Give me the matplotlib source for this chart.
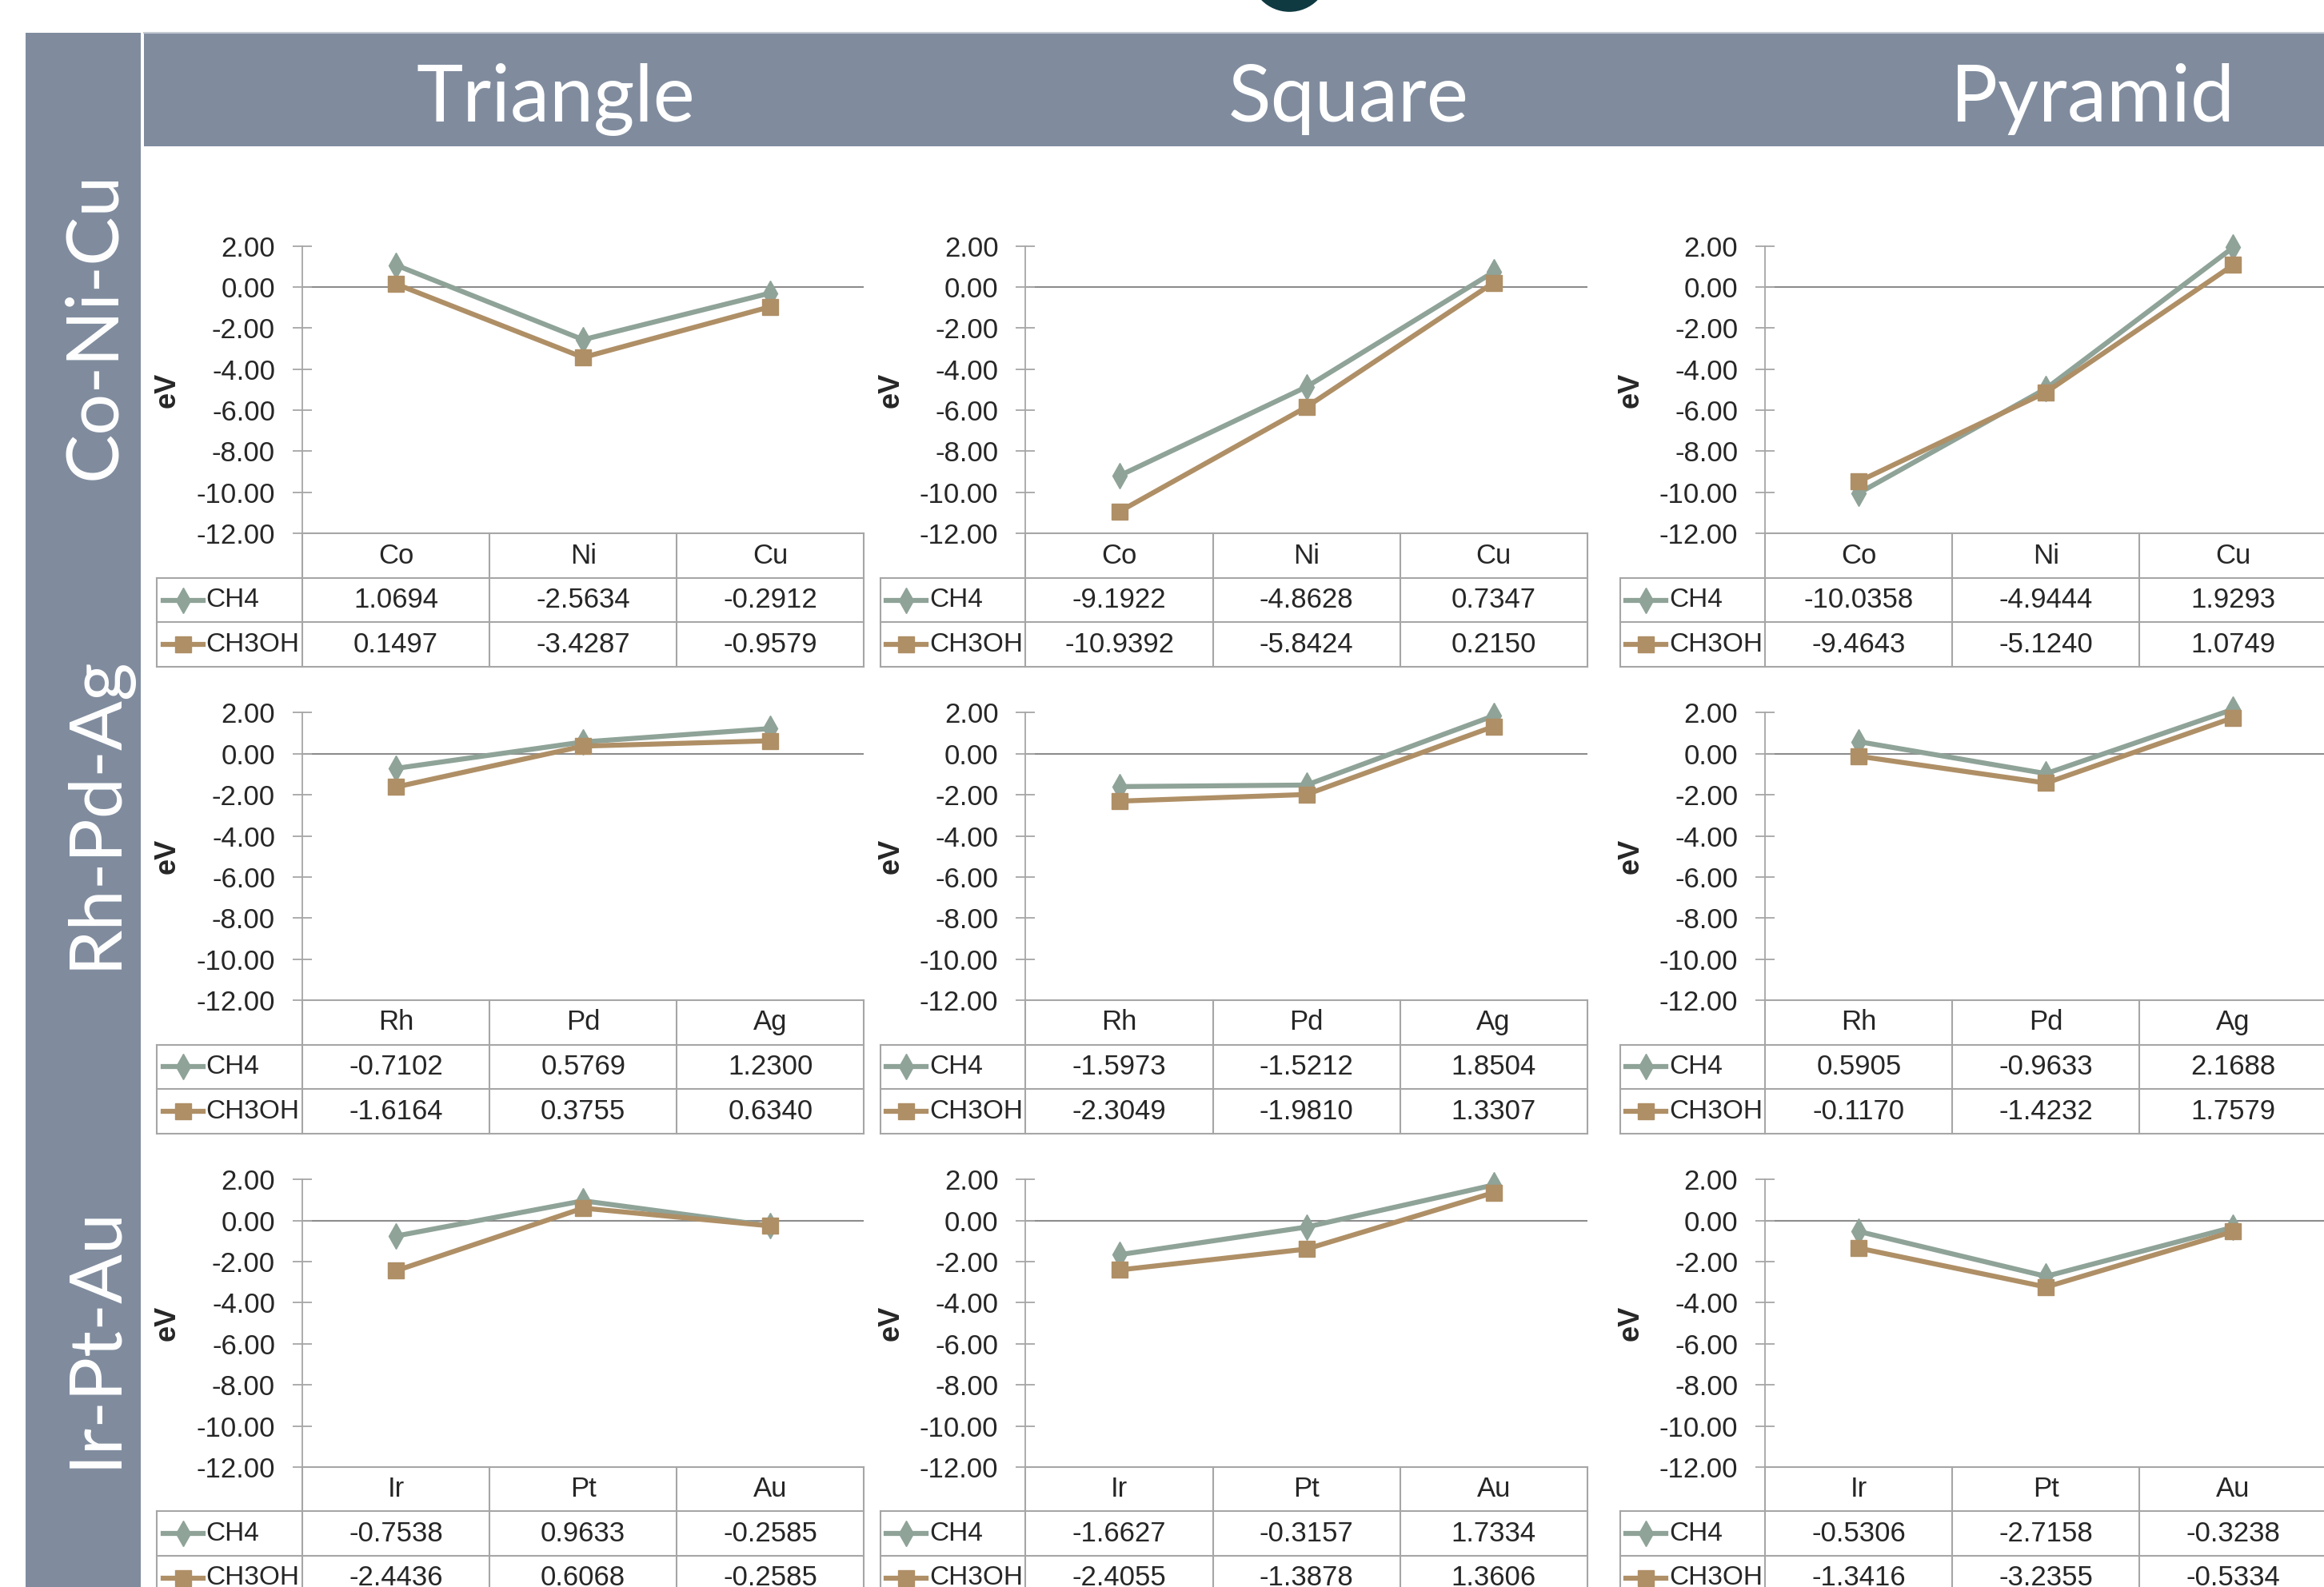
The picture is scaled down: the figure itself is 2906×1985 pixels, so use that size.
import matplotlib
matplotlib.use("Agg")
import matplotlib.pyplot as plt
from matplotlib.patches import Rectangle, Ellipse

# ---------------- data ----------------
shapes = ["Triangle", "Square", "Pyramid"]
groups = ["Co-Ni-Cu", "Rh-Pd-Ag", "Ir-Pt-Au"]
group_metals = [["Co", "Ni", "Cu"], ["Rh", "Pd", "Ag"], ["Ir", "Pt", "Au"]]
series_names = ["CH4", "CH3OH"]

# rows: metal groups, columns: shapes
ch4 = [
    [[1.0694, -2.5634, -0.2912], [-9.1922, -4.8628, 0.7347], [-10.0358, -4.9444, 1.9293]],
    [[-0.7102, 0.5769, 1.2300], [-1.5973, -1.5212, 1.8504], [0.5905, -0.9633, 2.1688]],
    [[-0.7538, 0.9633, -0.2585], [-1.6627, -0.3157, 1.7334], [-0.5306, -2.7158, -0.3238]],
]
ch3oh = [
    [[0.1497, -3.4287, -0.9579], [-10.9392, -5.8424, 0.2150], [-9.4643, -5.1240, 1.0749]],
    [[-1.6164, 0.3755, 0.6340], [-2.3049, -1.9810, 1.3307], [-0.1170, -1.4232, 1.7579]],
    [[-2.4436, 0.6068, -0.2585], [-2.4055, -1.3878, 1.3606], [-1.3416, -3.2355, -0.5334]],
]
yticks = [2, 0, -2, -4, -6, -8, -10, -12]

# ---------------- style ----------------
W, H = 1568.0, 1071.0          # layout reference units
BAND = "#808C9E"
C_CH4 = "#8FA398"
C_MEOH = "#AF8F66"
GRID = "#8C8C8C"
BORDER = "#A6A6A6"
TXT = "#262626"
NUM_FONT = ["Liberation Sans", "DejaVu Sans"]
NUM_SIZE = 25

fig = plt.figure(figsize=(29.06, 19.85), dpi=100)
fig.patch.set_facecolor("white")

def fx(x):
    return x / W

def fy(y):
    return 1 - y / H

# bands
fig.add_artist(Rectangle((fx(17), fy(1071)), fx(95) - fx(17), fy(22) - fy(1071),
                         transform=fig.transFigure, facecolor=BAND, edgecolor="none"))
fig.add_artist(Rectangle((fx(97), fy(99)), fx(1568) - fx(97), fy(22) - fy(99),
                         transform=fig.transFigure, facecolor=BAND, edgecolor="none"))
fig.add_artist(plt.Line2D([fx(97), 1], [fy(22), fy(22)], transform=fig.transFigure,
                          color="#C4CAD3", lw=1.5))
# dark circle at top
fig.add_artist(Ellipse((fx(870), fy(-18.6)), 2 * 26.6 / W, 2 * 26.6 / H,
                       transform=fig.transFigure, facecolor="#0F3A42", edgecolor="none"))

title_x = [375, 910, 1412]
for t, x in zip(shapes, title_x):
    fig.text(fx(x), fy(82), t, color="white", fontsize=71, family=["Lato", "DejaVu Sans"],
             ha="center", va="baseline")

label_y = [220, 548, 902]
for g, y in zip(groups, label_y):
    fig.text(fx(78), fy(y), g, color="white", fontsize=66, family=["Lato", "DejaVu Sans"],
             rotation=90, rotation_mode="anchor", ha="center", va="baseline")

# panel geometry
col_axis_x = [204, 692, 1191]
col_w = 126.3
leg_w = 98.0
row_top = [166, 481, 796]
plot_h = 194.0
row_h = 30.0

xs = [0, 1, 2]
for r in range(3):
    for c in range(3):
        ax0 = col_axis_x[c]
        top = row_top[r]
        ax = fig.add_axes([fx(ax0), fy(top + plot_h), (3 * col_w) / W, plot_h / H])
        ax.set_xlim(-0.5, 2.5)
        ax.set_ylim(-12, 2)
        ax.patch.set_alpha(0)
        for s in ["top", "right", "bottom"]:
            ax.spines[s].set_visible(False)
        ax.spines["left"].set_color(BORDER)
        ax.spines["left"].set_linewidth(1.3)
        ax.axhline(0, color=GRID, lw=1.5, zorder=1)
        ax.set_xticks([])
        ax.set_yticks(yticks)
        ax.set_yticklabels(["%.2f" % v for v in yticks], family=NUM_FONT, fontsize=NUM_SIZE, color=TXT)
        ax.tick_params(axis="y", direction="inout", length=17, width=1.3, color=BORDER, pad=16)
        ax.plot(xs, ch4[r][c], color=C_CH4, lw=4.5, marker="d", ms=16, zorder=3, clip_on=False)
        ax.plot(xs, ch3oh[r][c], color=C_MEOH, lw=4.5, marker="s", ms=15, zorder=3, clip_on=False)
        fig.text(fx(ax0 - 91), fy(top + plot_h / 2), "eV", rotation=90, ha="center", va="center",
                 fontsize=26, fontweight="bold", family=NUM_FONT, color=TXT)

        # data table
        L = leg_w / col_w
        tax = fig.add_axes([fx(ax0 - leg_w), fy(top + plot_h + 3 * row_h),
                            (leg_w + 3 * col_w) / W, 3 * row_h / H])
        tax.set_xlim(-0.5 - L, 2.5)
        tax.set_ylim(0, 3)
        tax.axis("off")
        lk = dict(color=BORDER, lw=1.5, clip_on=False)
        tax.plot([-0.5, 2.5], [3, 3], **lk)
        for yy in [2, 1, 0]:
            tax.plot([-0.5 - L, 2.5], [yy, yy], **lk)
        for xx in [-0.5, 0.5, 1.5, 2.5]:
            tax.plot([xx, xx], [0, 3], **lk)
        tax.plot([-0.5 - L, -0.5 - L], [0, 2], **lk)
        for i, m in enumerate(group_metals[r]):
            tax.text(i, 2.5, m, ha="center", va="center", fontsize=NUM_SIZE, family=NUM_FONT, color=TXT)
            tax.text(i, 1.5, "%.4f" % ch4[r][c][i], ha="center", va="center", fontsize=NUM_SIZE,
                     family=NUM_FONT, color=TXT)
            tax.text(i, 0.5, "%.4f" % ch3oh[r][c][i], ha="center", va="center", fontsize=NUM_SIZE,
                     family=NUM_FONT, color=TXT)
        u = 1.0 / col_w
        x_l0 = -0.5 - L + 4 * u
        x_l1 = -0.5 - L + 31 * u
        x_m = -0.5 - L + 17.5 * u
        for yy, name, col, mk, ms in [(1.5, series_names[0], C_CH4, "d", 16),
                                      (0.5, series_names[1], C_MEOH, "s", 15)]:
            tax.plot([x_l0, x_l1], [yy, yy], color=col, lw=4.5, clip_on=False)
            tax.plot([x_m], [yy], color=col, marker=mk, ms=ms, clip_on=False)
            tax.text(-0.5 - L + 33 * u, yy, name, ha="left", va="center", fontsize=24,
                     family=NUM_FONT, color=TXT)

fig.savefig("out.png", dpi=100, facecolor="white")
